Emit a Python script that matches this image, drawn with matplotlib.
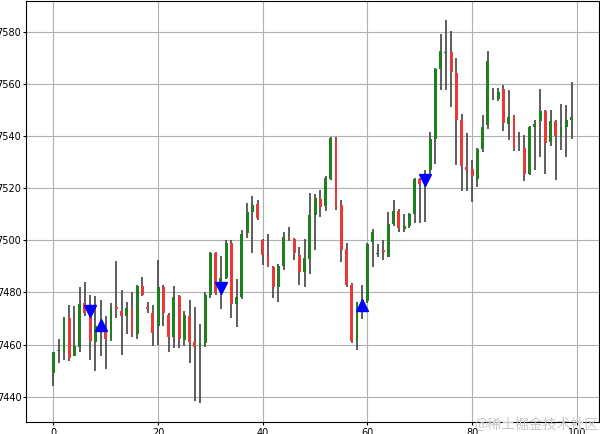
import matplotlib
matplotlib.use("Agg")
import matplotlib.pyplot as plt
import numpy as np

# OHLC, one entry per candle (index 0..99)
opens = [7449, 7457.5, 7457, 7470, 7455.6, 7459, 7476, 7471.4, 7461, 7467,
         7467, 7462, 7474.5, 7473, 7471, 7474, 7464, 7482.6, 7474.5, 7472,
         7467, 7482, 7471.5, 7463, 7478.7, 7461.7, 7471, 7461, 7459.1, 7460.4,
         7479, 7495.3, 7482, 7485.4, 7498.8, 7475.5, 7478.3, 7502.7, 7510.8, 7514,
         7500, 7494.5, 7489.7, 7482, 7490, 7501.3, 7500.6, 7494.2, 7487.8, 7493,
         7509.6, 7516, 7513, 7523.7, 7539, 7513.5, 7496.8, 7483, 7461.3, 7476,
         7476.8, 7499.2, 7494.7, 7496.2, 7493.7, 7506.3, 7511.4, 7504.4, 7505.3, 7509.9,
         7523.6, 7521.7, 7527, 7539, 7565.9, 7572, 7572.3, 7564.2, 7546, 7528.3,
         7527.2, 7523.6, 7535.1, 7544.1, 7556.5, 7554.4, 7558.2, 7544.7, 7547.6, 7537.9,
         7535.5, 7525.5, 7543.5, 7545.8, 7549.6, 7537.7, 7545.8, 7540.3, 7543.5, 7546]
highs = [7457, 7462, 7470.5, 7475, 7474.6, 7482, 7484, 7479, 7478.5, 7477,
         7471, 7476, 7492, 7481, 7476.5, 7480, 7483, 7486, 7476.5, 7475,
         7492.5, 7483, 7472, 7482.4, 7479, 7473, 7477, 7474.5, 7468, 7480,
         7495.5, 7495.5, 7494, 7500, 7500, 7485, 7504, 7514.2, 7517, 7515.5,
         7500.5, 7502.3, 7490, 7491, 7503.2, 7505, 7501, 7497.4, 7500.6, 7518,
         7517.7, 7519.2, 7524.5, 7539.7, 7539.5, 7515.4, 7499, 7483.7, 7476.5, 7482.7,
         7499, 7504.4, 7498.6, 7500, 7510.8, 7515.3, 7512, 7510, 7510.4, 7524,
         7524, 7526.8, 7541.5, 7566, 7579, 7584.5, 7580.4, 7570, 7548.6, 7541,
         7530.9, 7535.5, 7548, 7572.7, 7558.6, 7558.6, 7559.5, 7557.6, 7548, 7541.5,
         7540.3, 7543.8, 7546.3, 7558.2, 7550.1, 7550.1, 7546, 7552.2, 7551.8, 7560.8]
lows = [7444, 7453, 7454, 7453.5, 7455.6, 7457, 7471, 7454, 7450, 7455.4,
        7450.5, 7461.5, 7470, 7456, 7464, 7463, 7462, 7478.5, 7472, 7459.5,
        7460, 7467, 7457, 7458.5, 7458.5, 7459.5, 7453, 7438.3, 7437.6, 7459,
        7477.7, 7479, 7473.8, 7485, 7470, 7466.8, 7477.3, 7500.8, 7495.3, 7507.8,
        7490.5, 7489.7, 7478, 7476.3, 7488.5, 7499.7, 7492.6, 7483, 7482, 7487,
        7496.4, 7509, 7511.3, 7523, 7511.8, 7491.7, 7482, 7460.5, 7457.7, 7469.7,
        7476, 7489.6, 7493.5, 7492.4, 7493.5, 7505.3, 7503, 7503, 7504.7, 7506.5,
        7506.5, 7507, 7525.5, 7529.4, 7557.8, 7557.6, 7551, 7529, 7519, 7519,
        7514.6, 7520.4, 7533.8, 7542.8, 7554, 7553.5, 7542, 7538.6, 7534.2, 7534.2,
        7522.7, 7525, 7527.1, 7531.9, 7525.3, 7536, 7523.2, 7534.5, 7531.9, 7539]
closes = [7457, 7458, 7470, 7455, 7459.5, 7475.6, 7472, 7461.5, 7467, 7468,
          7462, 7474, 7473.5, 7471, 7474, 7464, 7482.6, 7479, 7473.5, 7464.5,
          7482, 7472, 7463, 7478.3, 7462, 7471.3, 7461, 7459, 7460.4, 7479,
          7495.3, 7479.6, 7485.4, 7498.8, 7475.5, 7478.3, 7502.4, 7510.8, 7513.6, 7508.5,
          7494.4, 7490, 7482, 7490, 7501.3, 7500.6, 7495, 7487.8, 7493.3, 7509.6,
          7516.4, 7512.6, 7524, 7539.1, 7512.8, 7496.4, 7482.7, 7461.3, 7476.3, 7477,
          7498.6, 7503.1, 7495.3, 7495.5, 7506.3, 7511.4, 7504.7, 7505.3, 7510.1, 7523.6,
          7521.7, 7525, 7539, 7565.9, 7572.7, 7572.3, 7564.6, 7546, 7528.7, 7526.8,
          7524.6, 7535.1, 7543.5, 7568.8, 7556.2, 7556.9, 7545, 7547.3, 7535.5, 7537.6,
          7525.5, 7543.5, 7544.5, 7549.6, 7537.3, 7545.8, 7539.9, 7543.5, 7546, 7547.3]

# trade signals
sell_idx = [7, 32, 71]
sell_price = [7473, 7481.5, 7523]
buy_idx = [9, 59]
buy_price = [7467.6, 7475]

o = np.array(opens)
h = np.array(highs)
l = np.array(lows)
c = np.array(closes)
x = np.arange(len(o))

fig = plt.figure(figsize=(6, 4.34), dpi=100)
ax = fig.add_axes([26 / 600, 12 / 434, 573 / 600, 421 / 434])

ax.grid(True, color='#b0b0b0', linewidth=0.8)
ax.set_axisbelow(True)

ax.vlines(x, l, h, color='#505050', linewidth=1.3, zorder=2)
colors = np.where(c >= o, '#1f7f1f', '#e83838')
ax.bar(x, c - o, bottom=o, width=0.55, color=colors, zorder=3)

ax.plot(sell_idx, sell_price, 'v', color='blue', markersize=9, zorder=4)
ax.plot(buy_idx, buy_price, '^', color='blue', markersize=9, zorder=4)

ax.set_xticks([0, 20, 40, 60, 80, 100])
ax.set_yticks(np.arange(7440, 7581, 20))
ax.tick_params(labelsize=7, length=2.5)
ax.tick_params(axis='x', pad=1.5)
ax.tick_params(axis='y', pad=0.8)
ax.margins(x=0.05, y=0.05)

fig.text(0.997, 0.006, '@稀土掘金技术社区', ha='right', va='bottom', fontsize=10,
         color='#c8c8c8', family=['Noto Sans CJK SC', 'DejaVu Sans'])

fig.savefig('out.png', dpi=100)
